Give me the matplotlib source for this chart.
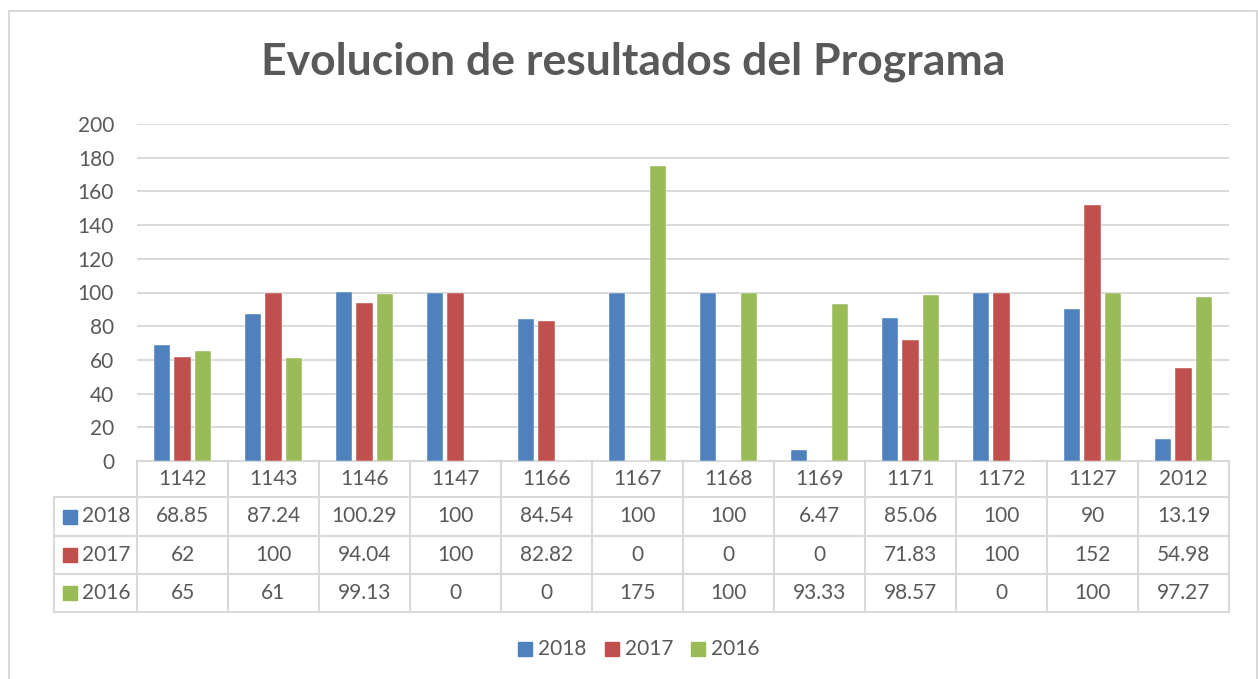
"""Evolucion de resultados del Programa - clustered bars with an Excel-style data table."""

import matplotlib

matplotlib.use("Agg")
import matplotlib.pyplot as plt
import matplotlib.transforms as mtransforms
import numpy as np
from matplotlib.patches import Rectangle

categories = ["1142", "1143", "1146", "1147", "1166", "1167",
              "1168", "1169", "1171", "1172", "1127", "2012"]
series_names = ["2018", "2017", "2016"]
values_2018 = [68.85, 87.24, 100.29, 100, 84.54, 100, 100, 6.47, 85.06, 100, 90, 13.19]
values_2017 = [62, 100, 94.04, 100, 82.82, 0, 0, 0, 71.83, 100, 152, 54.98]
values_2016 = [65, 61, 99.13, 0, 0, 175, 100, 93.33, 98.57, 0, 100, 97.27]
y_ticks = [0, 20, 40, 60, 80, 100, 120, 140, 160, 180, 200]

colors = ["#4F81BD", "#C0504D", "#9BBB59"]
text_c = "#595959"
grid_c = "#D9D9D9"

W, H = 1258, 679
plt.rcParams["font.family"] = ["Lato", "DejaVu Sans"]

fig = plt.figure(figsize=(W / 100, H / 100), dpi=100)


def fx(px):
    return px / W


def fy(py):
    return 1 - py / H


# outer chart border
fig.patches.append(Rectangle((fx(9), fy(690)), fx(1257) - fx(9), fy(11) - fy(690),
                             transform=fig.transFigure, fill=False,
                             edgecolor=grid_c, lw=1.5))

ax = fig.add_axes([fx(137), fy(461), fx(1229) - fx(137), fy(124) - fy(461)])

all_series = [values_2018, values_2017, values_2016]
x = np.arange(len(categories))
bw = 0.176
step = 0.22
for i, (vals, c) in enumerate(zip(all_series, colors)):
    ax.bar(x + (i - 1) * step, vals, width=bw, color=c, edgecolor="white",
           linewidth=0.3, zorder=3)

ax.set_xlim(-0.5, len(categories) - 0.5)
ax.set_ylim(0, 200)
ax.set_yticks(y_ticks)
ax.set_xticks([])
ax.tick_params(axis="y", length=0, pad=16.5, labelsize=15, labelcolor=text_c)
for s in ax.spines.values():
    s.set_visible(False)
ax.yaxis.grid(True, color=grid_c, lw=1.4, zorder=0)
ax.set_axisbelow(True)

fig.text(0.503, fy(62), "Evolucion de resultados del Programa", ha="center",
         va="center", fontsize=32, fontweight="bold", color=text_c)

# data table under the axis
trans = mtransforms.blended_transform_factory(ax.transData, fig.transFigure)
row_edges = [461, 497, 536, 574, 612]
xl, xr = -0.5, len(categories) - 0.5
line_kw = dict(color=grid_c, lw=1.5, clip_on=False, zorder=1)

ax.plot([xl, xr], [fy(row_edges[0])] * 2, transform=trans, **line_kw)
for r in row_edges[1:]:
    ax.plot([xl, xr], [fy(r)] * 2, transform=trans, **line_kw)
    ax.plot([fx(54), fx(137)], [fy(r)] * 2, transform=fig.transFigure, **line_kw)
for k in range(len(categories) + 1):
    ax.plot([k - 0.5] * 2, [fy(row_edges[0]), fy(row_edges[-1])],
            transform=trans, **line_kw)
ax.plot([fx(54)] * 2, [fy(row_edges[1]), fy(row_edges[-1])],
        transform=fig.transFigure, **line_kw)

head_y = fy((row_edges[0] + row_edges[1]) / 2)
for k, cat in enumerate(categories):
    ax.text(k, head_y, cat, transform=trans, ha="center", va="center",
            fontsize=15, color=text_c)

for i, (name, vals, c) in enumerate(zip(series_names, all_series, colors)):
    yc = fy((row_edges[i + 1] + row_edges[i + 2]) / 2)
    fig.patches.append(Rectangle((fx(63), yc - 7 / H), 14 / W, 14 / H,
                                 transform=fig.transFigure, color=c))
    fig.text(fx(82), yc, name, ha="left", va="center", fontsize=15, color=text_c)
    for k, v in enumerate(vals):
        ax.text(k, yc, f"{v:g}", transform=trans, ha="center", va="center",
                fontsize=15, color=text_c)

# legend
leg_y = fy(649)
leg_x = [518, 605, 691]
for lx, name, c in zip(leg_x, series_names, colors):
    fig.patches.append(Rectangle((fx(lx), leg_y - 7 / H), 14 / W, 14 / H,
                                 transform=fig.transFigure, color=c))
    fig.text(fx(lx + 20), leg_y, name, ha="left", va="center", fontsize=15,
             color=text_c)

fig.savefig("out.png", dpi=100)
